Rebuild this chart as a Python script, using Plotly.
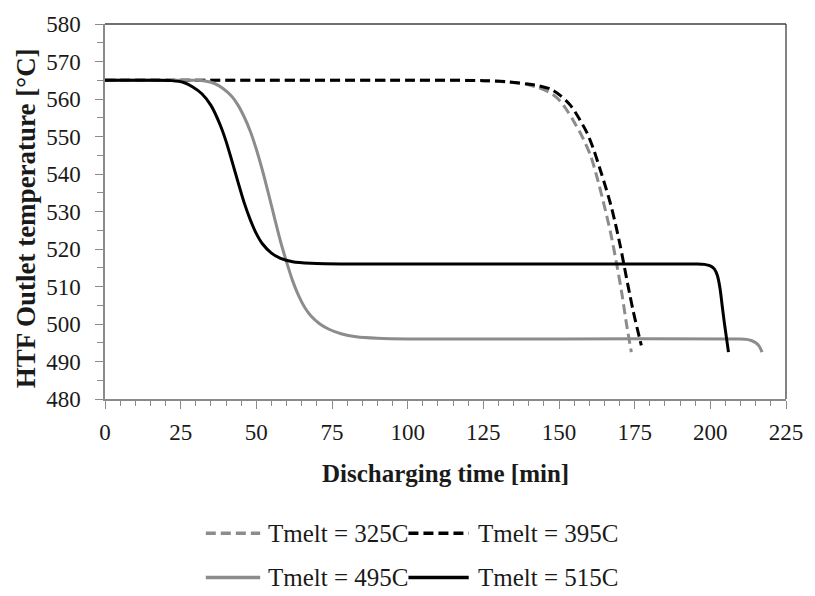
import plotly.graph_objects as go

# Discharging time [min] and HTF outlet temperature [°C] for each melting temperature
t_325 = [0, 50, 100, 125, 133, 139, 143, 146.5, 149.5, 152.3, 154.9, 157.7, 160.4, 162.6, 164.7, 167, 169.1, 170.8, 172.3, 173.9]
T_325 = [565, 565, 565, 564.9, 564.5, 563.9, 563.1, 561.9, 560.2, 557.4, 554, 549.9, 545, 539, 532.4, 524.5, 515.8, 508, 500, 492.5]

t_395 = [0, 50, 100, 125, 133, 139.7, 143.5, 147.3, 150.5, 153.8, 156.5, 159.3, 161.5, 163.6, 165.3, 166.9, 168.6, 170.2, 171.3, 172.3, 173.4, 174.5, 176, 177.2]
T_395 = [565, 565, 565, 564.9, 564.6, 564, 563.5, 562.6, 560.9, 558.3, 555, 550.9, 546.4, 541.2, 536.8, 532.4, 526.9, 521, 516.5, 512.3, 507.8, 503.5, 498.3, 494.3]

t_495 = [0, 20, 30, 33, 36, 39, 42, 44, 46, 48, 50, 52, 54, 56, 58, 60, 62, 64, 66, 68, 71, 74, 78, 83, 90, 100, 150, 210, 212, 213.5, 215, 216.2, 217.1]
T_495 = [565, 565, 565, 564.8, 564.2, 562.8, 560.6, 558.3, 555.2, 551.4, 546.6, 541, 534.8, 528.3, 522, 516.5, 511.5, 507.5, 504.4, 502.2, 500, 498.6, 497.4, 496.6, 496.2, 496, 496, 496, 495.9, 495.6, 495, 494, 492.5]

t_515 = [0, 15, 22, 26, 29, 32, 35, 38, 40, 42, 44, 46, 48, 50, 52, 55, 58, 62, 68, 80, 100, 150, 195, 198, 200, 201.3, 202.3, 203.2, 203.9, 204.6, 205.3, 206]
T_515 = [565, 565, 564.9, 564.4, 563.2, 561.4, 558.3, 553.2, 548.7, 543.3, 537.7, 532.3, 527.8, 524.1, 521.4, 518.9, 517.5, 516.6, 516.2, 516, 516, 516, 516, 515.9, 515.5, 514.7, 513, 509.5, 505, 500.5, 496.5, 492.5]

labels = ["Tmelt = 325C", "Tmelt = 395C", "Tmelt = 495C", "Tmelt = 515C"]
series = [(t_325, T_325), (t_395, T_395), (t_495, T_495), (t_515, T_515)]
colors = ["#8c8c8c", "#000000", "#8c8c8c", "#000000"]
dashes = ["10px,5px", "10px,5px", "solid", "solid"]

x_ticks = [0, 25, 50, 75, 100, 125, 150, 175, 200, 225]
y_ticks = [480, 490, 500, 510, 520, 530, 540, 550, 560, 570, 580]

FONT = "Liberation Serif"
TEXT = "#1a1a1a"
AXIS_GRAY = "#8a8a8a"

fig = go.Figure()
for (t, T), name, c, d in zip(series, labels, colors, dashes):
    fig.add_trace(go.Scatter(
        x=t, y=T, name=name, mode="lines",
        line=dict(color=c, width=3, dash=d, shape="spline", smoothing=0.8),
        showlegend=False,
    ))

W, H = 815, 596
L, R, T_M, B = 105, 21, 19, 197
pw, ph = W - L - R, H - T_M - B


def px_x(px):
    return (px - L) / pw


def px_y(py):
    return (H - B - py) / ph


fig.update_layout(
    width=W, height=H,
    margin=dict(l=L, r=R, t=T_M, b=B, pad=0),
    paper_bgcolor="white", plot_bgcolor="white",
    font=dict(family=FONT, color=TEXT, size=23),
    xaxis=dict(
        range=[0, 225], tickvals=x_ticks, ticktext=[str(v) for v in x_ticks],
        showgrid=False, zeroline=False,
        showline=True, linecolor=AXIS_GRAY, linewidth=1.5,
        ticks="outside", ticklen=8, tickwidth=1, tickcolor=AXIS_GRAY,
        minor=dict(dtick=5, ticks="outside", ticklen=5, tickwidth=1, tickcolor=AXIS_GRAY),
        tickfont=dict(size=23, family=FONT, color=TEXT),
        ticklabelstandoff=4,
    ),
    yaxis=dict(
        range=[480, 580], tickvals=y_ticks, ticktext=[str(v) for v in y_ticks],
        showgrid=False, zeroline=False,
        showline=True, linecolor=AXIS_GRAY, linewidth=1.5,
        ticks="outside", ticklen=8, tickwidth=1, tickcolor=AXIS_GRAY,
        minor=dict(dtick=5, ticks="outside", ticklen=6, tickwidth=1, tickcolor=AXIS_GRAY),
        tickfont=dict(size=23, family=FONT, color=TEXT),
        ticklabelstandoff=10,
    ),
    showlegend=False,
)

# Plot-area frame on the top and right
fig.add_shape(type="line", xref="paper", yref="paper", x0=0, x1=1, y0=1, y1=1,
              line=dict(color="#404040", width=1.3))
fig.add_shape(type="line", xref="paper", yref="paper", x0=1, x1=1, y0=0, y1=1,
              line=dict(color="#404040", width=1.3))

# Axis titles
fig.add_annotation(text="<b>Discharging time [min]</b>", xref="paper", yref="paper",
                   x=px_x(450), y=px_y(474), xanchor="center", yanchor="middle",
                   showarrow=False, font=dict(size=25, family=FONT, color=TEXT))
fig.add_annotation(text="<b>HTF Outlet temperature [°C]</b>", xref="paper", yref="paper",
                   x=px_x(25), y=px_y(216), xanchor="center", yanchor="middle",
                   textangle=-90, showarrow=False,
                   font=dict(size=27, family=FONT, color=TEXT))

# Legend: two rows of two entries below the plot
legend_slots = [(207, 262, 268, 535), (412, 473, 480, 535),
                (207, 262, 268, 580), (412, 473, 480, 580)]
for (x0, x1, xt, yc), name, c, d in zip(legend_slots, labels, colors, dashes):
    fig.add_shape(type="line", xref="paper", yref="paper",
                  x0=px_x(x0), x1=px_x(x1), y0=px_y(yc), y1=px_y(yc),
                  line=dict(color=c, width=3.5, dash=d))
    fig.add_annotation(text=name, xref="paper", yref="paper",
                       x=px_x(xt), y=px_y(yc), xanchor="left", yanchor="middle",
                       showarrow=False, font=dict(size=25, family=FONT, color=TEXT))

fig.write_html("out.html")
